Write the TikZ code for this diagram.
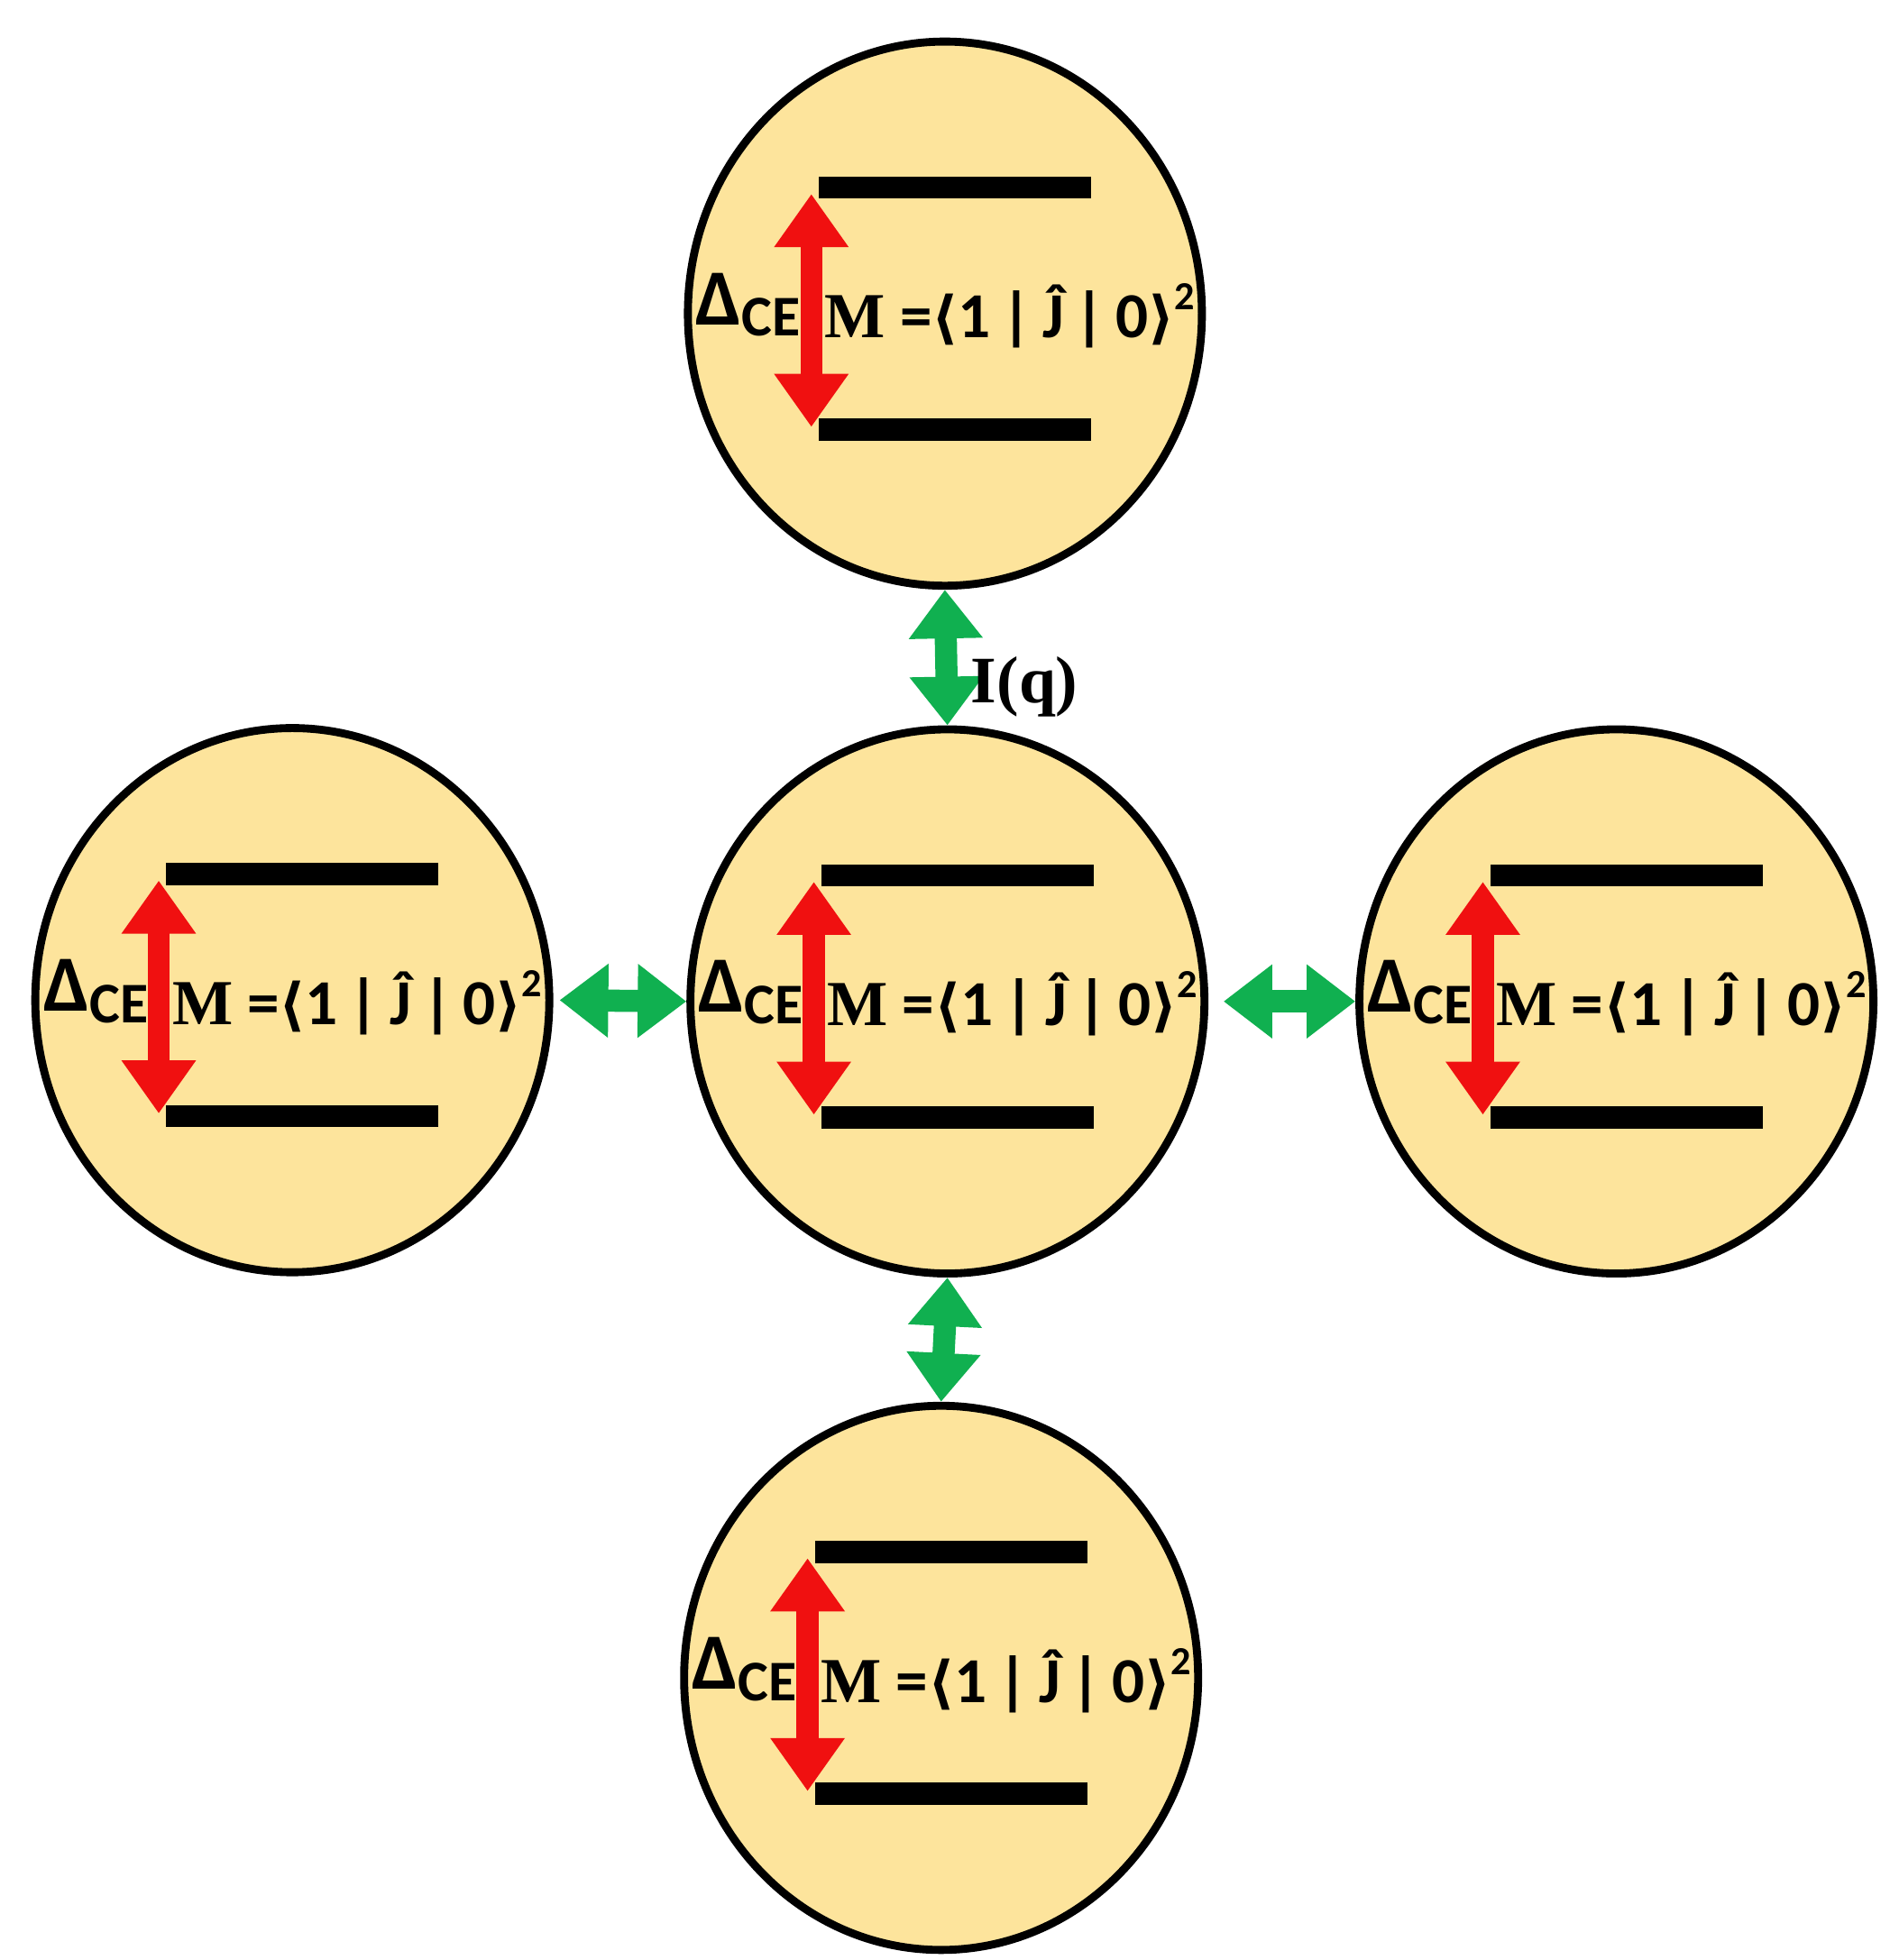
\documentclass[tikz,border=0pt]{standalone}
\usepackage{fontspec}
\setmainfont{Carlito}
\newfontfamily\serifb{Liberation Serif}
\newfontfamily\djsans{DejaVu Sans}
\usetikzlibrary{shapes.geometric,arrows.meta,calc}
\definecolor{fillc}{HTML}{FDE49C}
\definecolor{redc}{HTML}{F01010}
\definecolor{greenc}{HTML}{10B050}
\tikzset{
  cell/.style={ellipse,draw=black,line width=1.8pt,fill=fillc,minimum width=4.08cm,minimum height=4.32cm,inner sep=0pt},
  bar/.style={line width=5pt,black},
  red arr/.style={line width=5pt,redc,{Triangle[length=12pt,width=16pt]}-{Triangle[length=12pt,width=16pt]}},
  green arr/.style={line width=5pt,greenc,{Triangle[length=11pt,width=16pt]}-{Triangle[length=11pt,width=16pt]}},
  lbl/.style={font=\fontsize{14.5}{17}\selectfont\bfseries,inner sep=0pt}
}
\newcommand{\mycell}[3]{%
  \node[cell] (#1) at (#2,#3) {};
  \draw[bar] ($(#1.center)+(-1.0,1.0)$) -- ($(#1.center)+(1.16,1.0)$);
  \draw[bar] ($(#1.center)+(-1.0,-0.92)$) -- ($(#1.center)+(1.16,-0.92)$);
  \coordinate (#1a) at ($(#1.center)+(-1.06,0.95)$);
  \coordinate (#1b) at ($(#1.center)+(-1.06,-0.9)$);
  \draw[red arr] (#1a) -- (#1b);
  \node[lbl] (#1d) at ($(#1.center)+(-1.56,0.07)$) {\fontsize{18}{20}\selectfont Δ\raisebox{-0.3ex}{\fontsize{13}{15}\selectfont CE}};
  \node[lbl,anchor=west] (#1m) at ($(#1.center)+(-0.96,-0.02)$) {{\serifb\bfseries M} ={\djsans\bfseries\fontsize{13}{15}\selectfont ⟨}1\,|\,Ĵ\,|\,0{\djsans\bfseries\fontsize{13}{15}\selectfont ⟩}\raisebox{0.9ex}{\fontsize{9}{10}\selectfont 2}};
}
\begin{document}
\begin{tikzpicture}
\useasboundingbox (0,0) rectangle (15,-15.56);
\mycell{top}{7.5}{-2.49}
\mycell{mid}{7.52}{-7.95}
\mycell{left}{2.32}{-7.94}
\mycell{right}{12.83}{-7.95}
\mycell{bot}{7.47}{-13.32}
\draw[green arr] (top.south) -- (mid.north);
\node[lbl,anchor=west,font=\fontsize{15}{17}\selectfont] (iq) at (7.7,-5.45) {\serifb\bfseries I(q)};
\draw[green arr] ($(left.east)+(0.05,0)$) -- (mid.west);
\draw[green arr] ($(mid.east)+(0.12,0)$) -- (right.west);
\draw[green arr] (mid.south) -- (bot.north);
\end{tikzpicture}
\end{document}
